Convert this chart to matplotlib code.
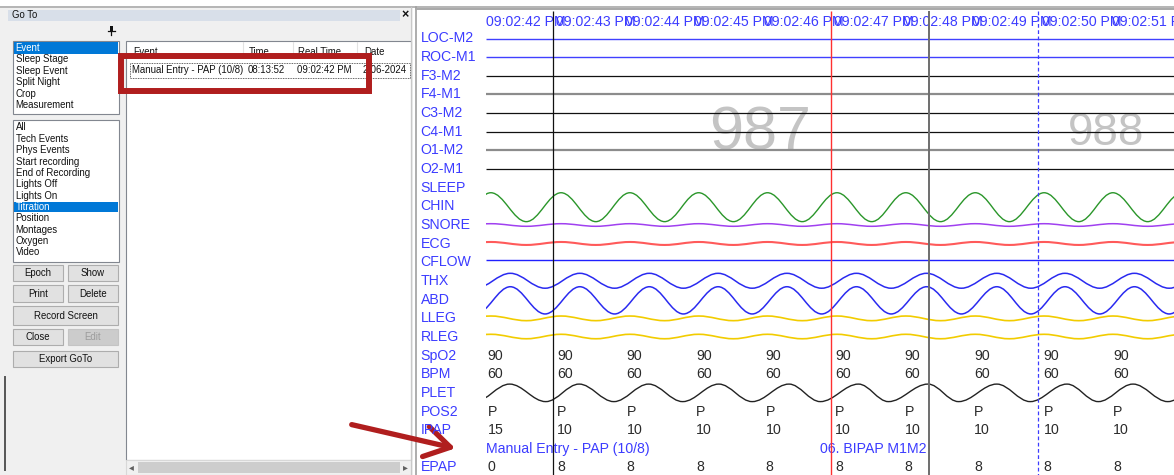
import numpy as np
import matplotlib
matplotlib.use("Agg")
import matplotlib.pyplot as plt
from matplotlib.patches import Rectangle, FancyArrowPatch, PathPatch
from matplotlib.path import Path

plt.rcParams['font.family'] = ['Liberation Sans', 'DejaVu Sans']

# ---------------- data ----------------
categories = ["Event", "Sleep Stage", "Sleep Event", "Split Night", "Crop", "Measurement"]
event_types = ["All", "Tech Events", "Phys Events", "Start recording", "End of Recording",
               "Lights Off", "Lights On", "Titration", "Position", "Montages", "Oxygen", "Video"]
selected_category = "Event"
selected_type = "Titration"

table_cols = ["Event", "Time", "Real Time", "Date"]
table_row = ["Manual Entry - PAP (10/8)", "08:13:52", "09:02:42 PM", "2-06-2024"]

channels = ["LOC-M2", "ROC-M1", "F3-M2", "F4-M1", "C3-M2", "C4-M1", "O1-M2", "O2-M1",
            "SLEEP", "CHIN", "SNORE", "ECG", "CFLOW", "THX", "ABD", "LLEG", "RLEG",
            "SpO2", "BPM", "PLET", "POS2", "IPAP", "EPAP"]

sec_labels = ["09:02:42 PM", "09:02:43 PM", "09:02:44 PM", "09:02:45 PM", "09:02:46 PM",
              "09:02:47 PM", "09:02:48 PM", "09:02:49 PM", "09:02:50 PM", "09:02:51 PM"]
sec_t = [0, 1, 2, 3, 4, 5, 6, 7, 8, 9]

spo2 = [90, 90, 90, 90, 90, 90, 90, 90, 90, 90]
bpm = [60, 60, 60, 60, 60, 60, 60, 60, 60, 60]
pos2 = ["P", "P", "P", "P", "P", "P", "P", "P", "P", "P"]
ipap = [15, 10, 10, 10, 10, 10, 10, 10, 10, 10]
epap = [0, 8, 8, 8, 8, 8, 8, 8, 8, 8]

note_t = [0.0, 4.81]
note_text = ["Manual Entry - PAP (10/8)", "06. BIPAP M1M2"]

cursor_t = [0.957, 4.96, 6.38, 7.94]
epoch_t = [3.94, 8.92]
epoch_num = ["987", "988"]

# wave extrema (seconds) and levels (rows)
chin_peaks = [0.07, 1.08, 2.07, 3.06, 4.05, 5.05, 6.04, 7.04, 8.03, 9.02, 10.02]
chin_troughs = [-0.43, 0.58, 1.58, 2.57, 3.56, 4.55, 5.55, 6.54, 7.53, 8.53, 9.52]
resp_peaks = [0.35, 1.35, 2.35, 3.34, 4.33, 5.33, 6.34, 7.35, 8.33, 9.33, 10.33]
resp_troughs = [-0.15, 0.85, 1.85, 2.84, 3.83, 4.83, 5.83, 6.84, 7.84, 8.83, 9.83]
plet_peaks = [0.34, 1.34, 2.34, 3.35, 4.36, 5.36, 6.36, 7.35, 8.36, 9.31, 10.31]
plet_troughs = [-0.16, 0.86, 1.84, 2.83, 3.83, 4.81, 5.79, 6.80, 7.83, 8.81, 9.81]

chin_lv = (8.27, 9.82)
snore_lv = (9.93, 10.07)
ecg_lv = (10.91, 11.07)
cflow_lv = 11.89
thx_lv = (12.59, 13.39)
abd_lv = (13.31, 14.77)
lleg_lv = (14.88, 15.13)
rleg_lv = (15.86, 16.10)
plet_lv = (18.53, 19.47)

# ---------------- figure ----------------
W, H = 1174, 475
fig = plt.figure(figsize=(W / 100, H / 100), dpi=100, facecolor="white")
ui = fig.add_axes([0, 0, 1, 1])
ui.set_xlim(0, W)
ui.set_ylim(H, 0)
ui.axis("off")

BLUE_TXT = "#3c3cff"
FS = 6.9


def box(x0, y0, x1, y1, fc, ec="none", lw=0.8, z=1, ls="-"):
    ui.add_patch(Rectangle((x0, y0), x1 - x0, y1 - y0, facecolor=fc, edgecolor=ec,
                           linewidth=lw, zorder=z, linestyle=ls))


def button(x0, y0, x1, y1, label, enabled=True):
    box(x0, y0, x1, y1, "#e1e1e1" if enabled else "#cccccc", "#adadad" if enabled else "#c4c4c4", z=2)
    ui.text((x0 + x1) / 2, (y0 + y1) / 2 + 0.5, label, ha="center", va="center", fontsize=FS,
            color="#111111" if enabled else "#9c9c9c", zorder=3)


# left panel
box(0, 8, 413, H, "#f0f0f0", z=0)
ui.plot([0, 1174], [7, 7], color="#a8a8a8", lw=1.2, zorder=1)
box(8, 10, 400, 21, "#d8dfe9", z=1)
ui.text(12, 15.5, "Go To", fontsize=FS, va="center", color="#111111", zorder=3)
ui.text(405, 15.5, "×", fontsize=9, va="center", ha="center", fontweight="bold", color="#111111", zorder=3)
# pin icon
box(109.5, 26, 113, 30.5, "#111111", z=3)
ui.plot([108, 114.5], [30.5, 30.5], color="#111111", lw=0.9, zorder=3)
ui.plot([111.2, 111.2], [30.5, 35], color="#111111", lw=0.9, zorder=3)

# category list
box(13, 41, 119, 114, "white", "#828790", z=1)
for i, name in enumerate(categories):
    yc = 48 + 11.4 * i
    if name == selected_category:
        box(14, yc - 5.7, 118, yc + 5.7, "#0078d7", z=2)
    ui.text(15.5, yc, name, fontsize=FS, va="center", zorder=3,
            color="white" if name == selected_category else "#111111")

# event type list
box(13, 120, 119, 262, "white", "#828790", z=1)
for i, name in enumerate(event_types):
    yc = 127.5 + 11.36 * i
    if name == selected_type:
        box(14, yc - 5.2, 118, yc + 5.2, "#0078d7", z=2)
    ui.text(15.5, yc, name, fontsize=FS, va="center", zorder=3,
            color="white" if name == selected_type else "#111111")

button(13, 265, 63, 281, "Epoch")
button(68, 265, 118, 281, "Show")
button(13, 285, 63, 301.5, "Print")
button(68, 285, 118, 301.5, "Delete")
button(13, 305.5, 118, 325, "Record Screen")
button(13, 329, 63, 345, "Close")
button(68, 329, 118, 345, "Edit", enabled=False)
button(13, 350.5, 118, 367, "Export GoTo")
ui.plot([5, 5], [377, 470], color="#555555", lw=1.4, zorder=2)

# event table
box(126, 40.5, 411, 460, "white", "#828790", z=1)
col_x = [133, 249, 298, 364]
col_sep = [243, 292.5, 357]
for cx, name in zip(col_x, table_cols):
    ui.text(cx, 52, name, fontsize=FS, va="center", color="#111111", zorder=3)
for sx in col_sep:
    ui.plot([sx, sx], [41.5, 58], color="#e2e2e2", lw=0.8, zorder=2)
for cx, val in zip(col_x, table_row):
    ui.text(cx - 1, 70, val, fontsize=FS, va="center", color="#111111", zorder=3)
box(130, 62.5, 409.5, 77.5, "none", "#333333", lw=0.6, z=3, ls=(0, (1, 1)))
# scrollbar
box(126, 460, 411, 475, "#f0f0f0", "#d8d8d8", z=2)
box(138, 462, 400, 473, "#cdcdcd", z=3)
ui.text(131, 467.5, "◂", fontsize=7, ha="center", va="center", color="#606060", zorder=4)
ui.text(405, 467.5, "▸", fontsize=7, ha="center", va="center", color="#606060", zorder=4)

# highlight rectangle and arrow
box(121, 56, 369, 91, "none", "#b01e1e", lw=4.3, z=6)
ui.add_patch(FancyArrowPatch((349, 424), (458, 449),
                             arrowstyle="->,head_length=0.9,head_width=0.55",
                             mutation_scale=20, lw=3.8, color="#b01e1e", zorder=6))

# right pane frame
box(416, 8, W, H, "white", z=0)
ui.plot([411, 411], [7, H], color="#c8c8c8", lw=0.8, zorder=2)
ui.plot([416, 416], [7, H], color="#a0a0a0", lw=1.2, zorder=2)
ui.plot([416, W], [9, 9], color="#a8a8a8", lw=1.4, zorder=2)

# ---------------- trace area ----------------
X0, PX_S = 486.0, 69.5     # pixel of t = 0, pixels per second
Y0, PX_ROW = 38.5, 18.65   # pixel of row 0, pixels per row
ax = fig.add_axes([418 / W, 0, (W - 418) / W, 1])
ax.set_xlim((418 - X0) / PX_S, (W - X0) / PX_S)
ax.set_ylim((H - Y0) / PX_ROW, (0 - Y0) / PX_ROW)
ax.axis("off")
ax.patch.set_alpha(0)
t_end = ax.get_xlim()[1]

rows = list(range(22)) + [23]
for name, r in zip(channels, rows):
    ax.text((420.5 - X0) / PX_S, r, name, fontsize=10.2, color=BLUE_TXT, va="center", ha="left")

for t, lab in zip(sec_t, sec_labels):
    ax.text(t, -0.9, lab, fontsize=10.2, color=BLUE_TXT, va="center", ha="left")

# epoch numbers behind traces
ax.text(epoch_t[0], (150 - Y0) / PX_ROW, epoch_num[0], fontsize=44, color="#c4c4c4",
        ha="center", va="baseline", zorder=0)
ax.text(epoch_t[1], (145 - Y0) / PX_ROW, epoch_num[1], fontsize=33, color="#c4c4c4",
        ha="center", va="baseline", zorder=0)

# flat montage lines
flat_style = [("#4040ff", 1.0), ("#4040ff", 1.0), ("#111111", 0.9), ("#8c8c8c", 1.6),
              ("#111111", 0.9), ("#111111", 0.9), ("#8c8c8c", 1.6), ("#111111", 0.9)]
for r, (c, lw) in enumerate(flat_style):
    ax.hlines(r, 0, t_end, color=c, lw=lw, zorder=2)
ax.hlines(cflow_lv, 0, t_end, color="#2020ff", lw=1.0, zorder=2)


def wave(peaks, troughs, lv, color, lw=1.0):
    pts = sorted([(t, lv[0]) for t in peaks] + [(t, lv[1]) for t in troughs])
    verts = [pts[0]]
    codes = [Path.MOVETO]
    for (ta, ya), (tb, yb) in zip(pts[:-1], pts[1:]):
        d = (tb - ta) * 0.36
        verts += [(ta + d, ya), (tb - d, yb), (tb, yb)]
        codes += [Path.CURVE4] * 3
    p = PathPatch(Path(verts, codes), facecolor="none", edgecolor=color, lw=lw, zorder=3)
    ax.add_patch(p)
    p.set_clip_path(Rectangle((0, -5), 30, 40, transform=ax.transData))


wave(chin_peaks, chin_troughs, chin_lv, "#2a962a", 1.0)
wave(chin_peaks, chin_troughs, snore_lv, "#a040f0", 1.1)
wave(chin_peaks, chin_troughs, ecg_lv, "#ff5a5a", 1.5)
wave(resp_peaks, resp_troughs, thx_lv, "#2a2af0", 1.1)
wave(resp_peaks, resp_troughs, abd_lv, "#2a2af0", 1.1)
wave(chin_peaks, chin_troughs, lleg_lv, "#f2cc00", 1.2)
wave(chin_peaks, chin_troughs, rleg_lv, "#f2cc00", 1.2)
wave(plet_peaks, plet_troughs, plet_lv, "#222222", 1.0)

# numeric channels
val_rows = [(17, spo2), (18, bpm), (20, pos2), (21, ipap), (23, epap)]
for r, vals in val_rows:
    for t, v in zip(sec_t, vals):
        ax.text(t + 0.02, r, str(v), fontsize=10.2, color="#2a2a2a", va="center", ha="left", zorder=4)

for t, s in zip(note_t, note_text):
    ax.text(t, 22, s, fontsize=10.2, color=BLUE_TXT, va="center", ha="left", zorder=4)

# cursors / markers
y_top = (11 - Y0) / PX_ROW
y_bot = (H - Y0) / PX_ROW
ax.vlines(cursor_t[0], y_top, y_bot, color="#111111", lw=0.9, zorder=5)
ax.vlines(cursor_t[1], y_top, y_bot, color="#ff3030", lw=1.0, zorder=5)
ax.vlines(cursor_t[2], y_top, y_bot, color="#6e6e6e", lw=1.4, zorder=5)
ax.vlines(cursor_t[3], y_top, y_bot, color="#3c3cff", lw=0.9, linestyles=(0, (3, 2)), zorder=5)

fig.savefig("out.png", dpi=100, facecolor="white")
